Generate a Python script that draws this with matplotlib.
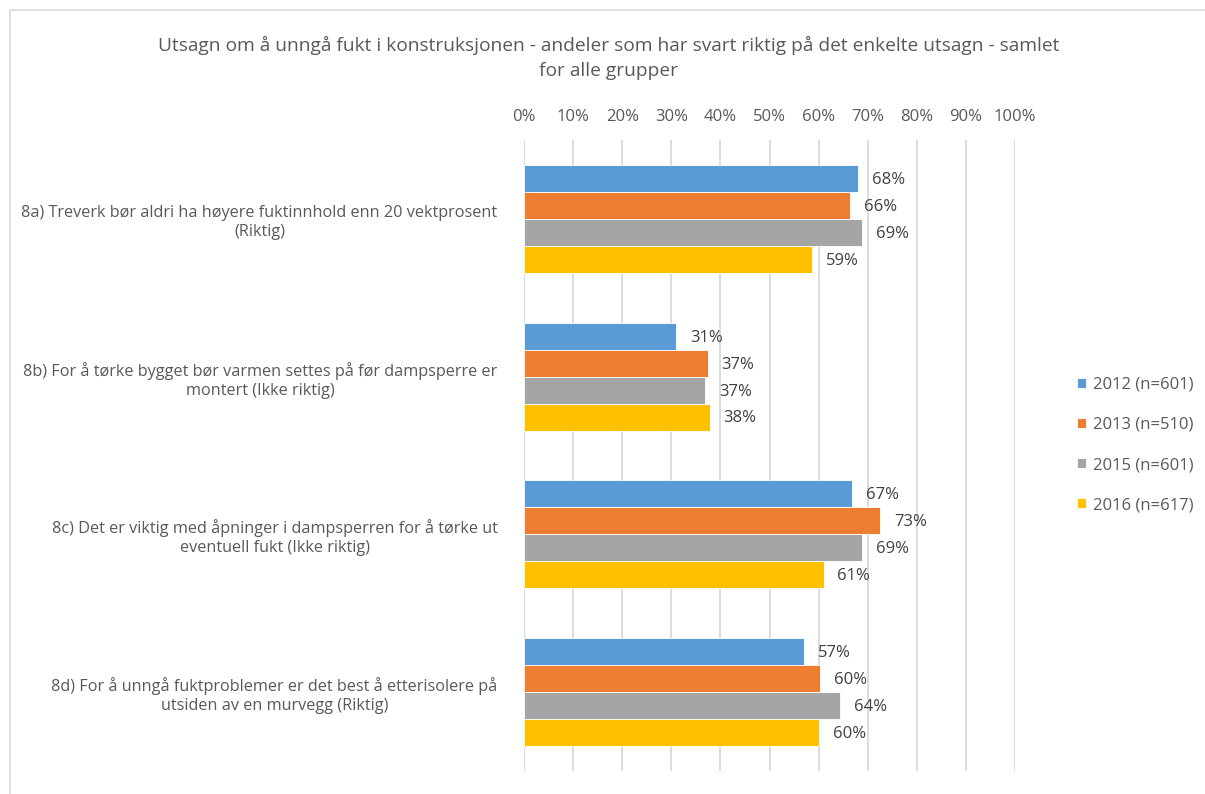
import numpy as np
import matplotlib
matplotlib.use("Agg")
import matplotlib.pyplot as plt
from matplotlib.patches import Rectangle

plt.rcParams['font.family'] = ['Open Sans', 'DejaVu Sans']

TEXT = "#595959"
GRID = "#d9d9d9"

categories = [
    "8a) Treverk bør aldri ha høyere fuktinnhold enn 20 vektprosent\n(Riktig)",
    "8b) For å tørke bygget bør varmen settes på før dampsperre er\nmontert (Ikke riktig)",
    "8c) Det er viktig med åpninger i dampsperren for å tørke ut\neventuell fukt (Ikke riktig)",
    "8d) For å unngå fuktproblemer er det best å etterisolere på\nutsiden av en murvegg (Riktig)",
]
series = ["2012 (n=601)", "2013 (n=510)", "2015 (n=601)", "2016 (n=617)"]
v2012 = [68.0, 31.0, 66.9, 57.0]
v2013 = [66.4, 37.4, 72.6, 60.3]
v2015 = [68.8, 36.9, 68.8, 64.4]
v2016 = [58.7, 37.8, 61.0, 60.1]
colors = ["#5B9BD5", "#ED7D31", "#A5A5A5", "#FFC000"]
xticks = list(range(0, 101, 10))

title = ("Utsagn om å unngå fukt i konstruksjonen - andeler som har svart riktig på det enkelte utsagn - samlet\n"
         "for alle grupper")

fig = plt.figure(figsize=(12.05, 7.94), dpi=100)
ax = fig.add_axes([524 / 1205, 1 - 771 / 794, (1015 - 524) / 1205, (771 - 140) / 794])

y = np.arange(len(categories))
h = 0.171
for i, (vals, name, c) in enumerate(zip([v2012, v2013, v2015, v2016], series, colors)):
    pos = y + (i - 1.5) * h
    ax.barh(pos, vals, height=h, color=c, edgecolor="white", linewidth=0.6, label=name, zorder=3)
    for p, v in zip(pos, vals):
        ax.annotate(f"{round(v)}%", (v, p), xytext=(10, -1), textcoords="offset points",
                    va="center", ha="left", fontsize=12, color="#404040")

ax.set_xlim(0, 100)
ax.set_ylim(3.5, -0.5)
ax.xaxis.tick_top()
ax.set_xticks(xticks)
ax.set_xticklabels([f"{t}%" for t in xticks])
ax.set_yticks(y)
ax.set_yticklabels(categories, multialignment="center", linespacing=1.25)
ax.tick_params(axis="both", length=0, labelcolor=TEXT)
ax.tick_params(axis="x", pad=11, labelsize=12)
ax.tick_params(axis="y", pad=19, labelsize=11.7)
ax.grid(axis="x", color=GRID, linewidth=1.3, zorder=0)
for s in ax.spines.values():
    s.set_visible(False)

fig.text(0.505, 1 - 58 / 794, title, ha="center", va="center", fontsize=13.8,
         color=TEXT, linespacing=1.55)

fig.legend(loc="center left", bbox_to_anchor=(1062 / 1205, 1 - 445 / 794), frameon=False,
           fontsize=12, labelcolor=TEXT, handlelength=0.55, handleheight=0.55,
           handletextpad=0.4, labelspacing=1.45)

fig.add_artist(Rectangle((10 / 1205, -0.1), 1.2, 1.1 - 10 / 794, transform=fig.transFigure,
                         fill=False, edgecolor=GRID, linewidth=1.2))

fig.savefig("out.png", dpi=100)
